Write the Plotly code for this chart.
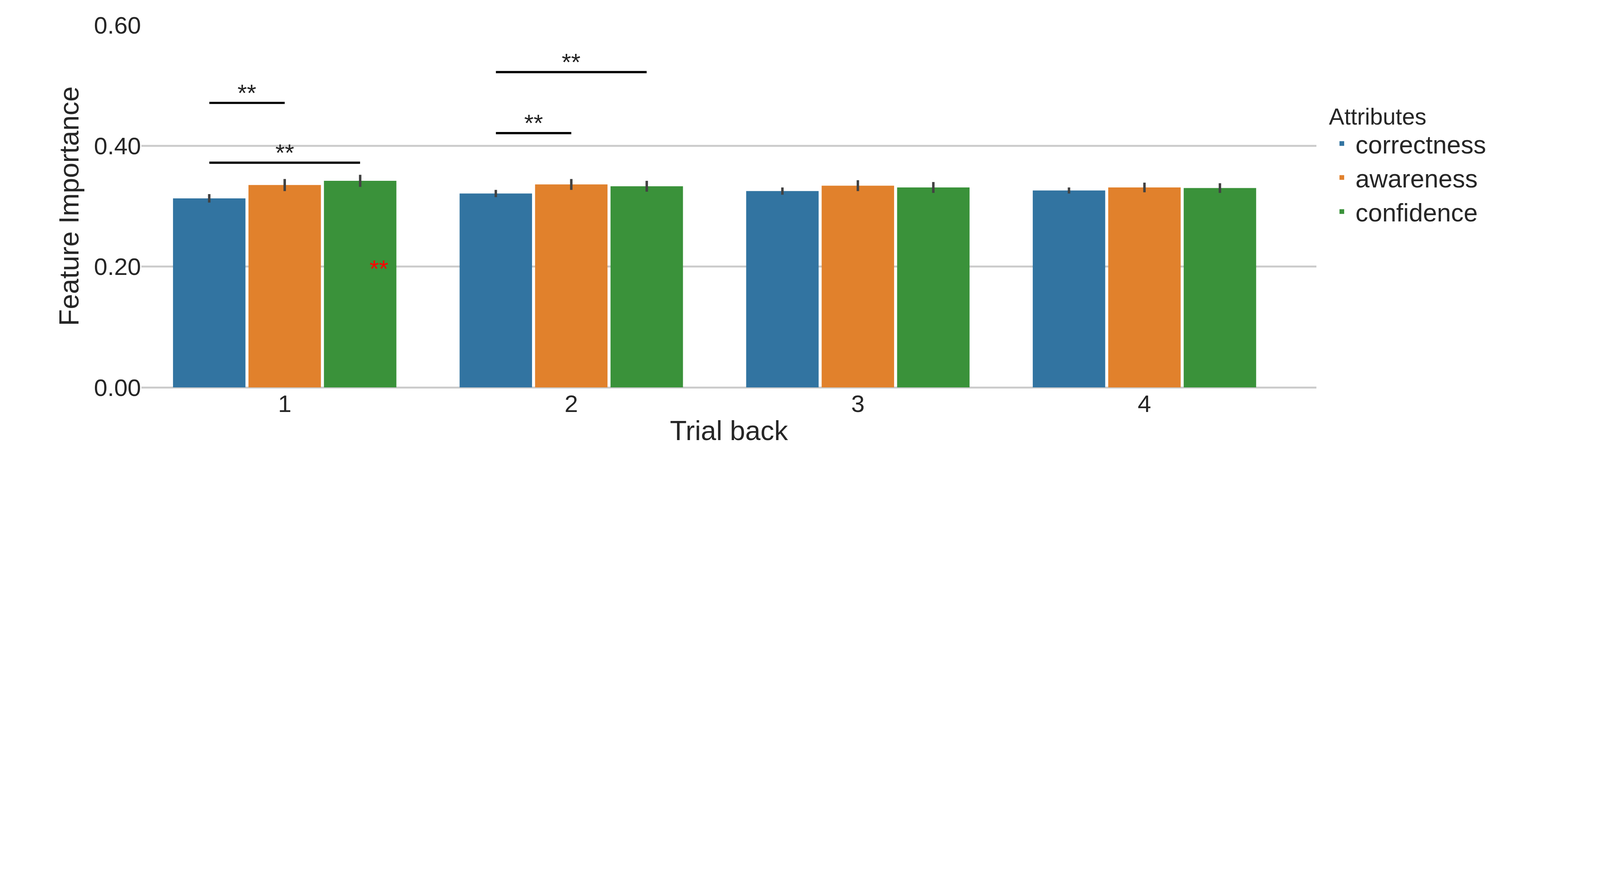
import plotly.graph_objects as go

trials = [1, 2, 3, 4]
attributes = ["correctness", "awareness", "confidence"]
colors = ["#3274a1", "#e1812c", "#3a923a"]
importance = {
    "correctness": [0.313, 0.321, 0.325, 0.326],
    "awareness": [0.335, 0.336, 0.334, 0.331],
    "confidence": [0.342, 0.333, 0.331, 0.330],
}
err = {
    "correctness": [0.007, 0.006, 0.006, 0.005],
    "awareness": [0.010, 0.009, 0.009, 0.008],
    "confidence": [0.010, 0.009, 0.009, 0.008],
}

# significance brackets: (trial, bar_a, bar_b, height)
brackets = [(1, 0, 1, 0.471), (1, 0, 2, 0.372), (2, 0, 1, 0.421), (2, 0, 2, 0.522)]
offset = 0.263
s = 0.5625  # viewport scale

fig = go.Figure()
for a, c in zip(attributes, colors):
    fig.add_trace(go.Bar(
        x=trials, y=importance[a], name=a, marker_color=c,
        marker_line_width=0,
        error_y=dict(type="data", array=err[a], color="#424242", thickness=8 * s * 1.4, width=0),
    ))

for t, b1, b2, h in brackets:
    x0 = t + (b1 - 1) * offset
    x1 = t + (b2 - 1) * offset
    fig.add_shape(type="line", x0=x0, x1=x1, y0=h, y1=h,
                  line=dict(color="black", width=10 * s))
    fig.add_annotation(x=(x0 + x1) / 2, y=h, text="**", showarrow=False,
                       yanchor="bottom", yshift=-10, font=dict(size=110 * s, color="#222"))

fig.add_annotation(x=1 + 1.25 * offset, y=0.197, text="**", showarrow=False,
                   font=dict(size=110 * s, color="red"))

fig.update_layout(
    width=4110, height=1254,
    paper_bgcolor="white", plot_bgcolor="white",
    font=dict(family="Arial, Liberation Sans, sans-serif", size=110 * s, color="#262626"),
    barmode="group", bargap=0.21, bargroupgap=0.04,
    margin=dict(l=int(630 * s), r=int(1330 * s), t=int(100 * s), b=int(480 * s)),
    xaxis=dict(title=dict(text="Trial back", font=dict(size=125 * s), standoff=10),
               tickmode="array", tickvals=trials, ticks="", showgrid=False,
               showline=False, zeroline=False, range=[0.5, 4.6]),
    yaxis=dict(title=dict(text="Feature Importance", font=dict(size=125 * s), standoff=15),
               range=[0, 0.6], tickvals=[0, 0.2, 0.4, 0.6], tickformat=".2f",
               showgrid=True, gridcolor="#cccccc", gridwidth=9 * s,
               zeroline=True, zerolinecolor="#cccccc", zerolinewidth=9 * s,
               showline=False, ticks=""),
    legend=dict(title=dict(text="Attributes", font=dict(size=105 * s)),
                font=dict(size=115 * s), x=1.01, y=0.62, yanchor="middle",
                itemwidth=60, bgcolor="rgba(0,0,0,0)"),
)

fig.write_html("out.html")
